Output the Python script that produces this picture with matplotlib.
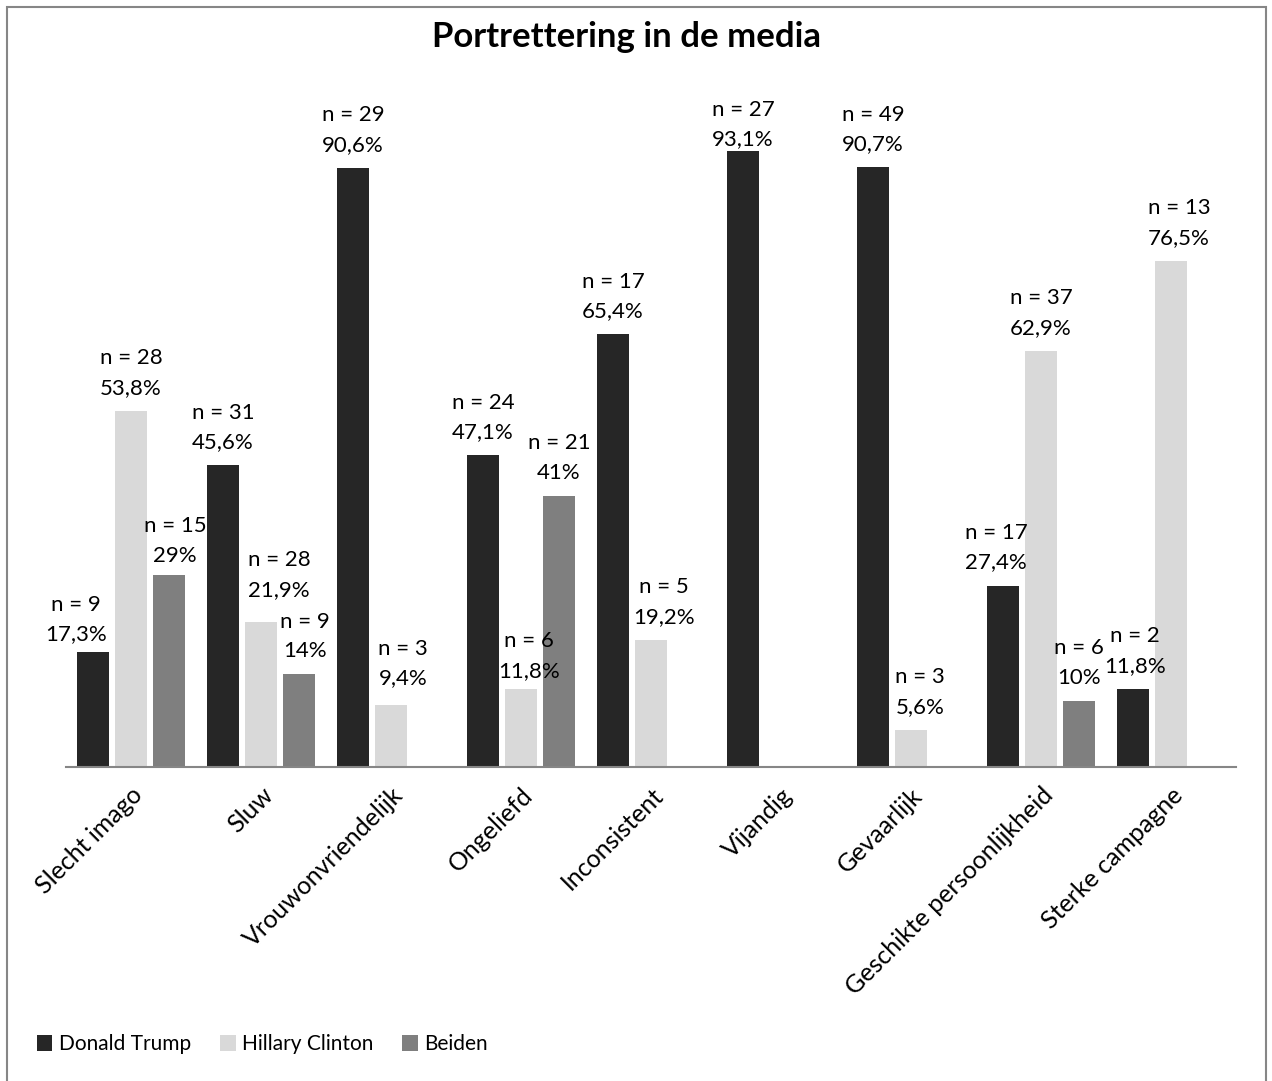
"""Portrettering in de media - grouped bar chart."""

import numpy as np
import matplotlib.pyplot as plt
from matplotlib.patches import Rectangle, Patch

plt.rcParams['font.family'] = ['Lato', 'DejaVu Sans']

# --- data ---
categories = ["Slecht imago", "Sluw", "Vrouwonvriendelijk", "Ongeliefd",
              "Inconsistent", "Vijandig", "Gevaarlijk",
              "Geschikte persoonlijkheid", "Sterke campagne"]
series_names = ["Donald Trump", "Hillary Clinton", "Beiden"]

trump_pct = [17.3, 45.6, 90.6, 47.1, 65.4, 93.1, 90.7, 27.4, 11.8]
trump_n = [9, 31, 29, 24, 17, 27, 49, 17, 2]
clinton_pct = [53.8, 21.9, 9.4, 11.8, 19.2, None, 5.6, 62.9, 76.5]
clinton_n = [28, 28, 3, 6, 5, None, 3, 37, 13]
beiden_pct = [29, 14, None, 41, None, None, None, 10, None]
beiden_n = [15, 9, None, 21, None, None, None, 6, None]

colors = ['#262626', '#d9d9d9', '#7f7f7f']

# label nudges in pixels (series, category) -> (dx, dy)
label_nudge = {
    (0, 0): (-17, -5),
    (2, 0): (6, -4),
    (1, 1): (18, 9),
    (2, 1): (6, 0),
    (1, 2): (12, 3),
    (1, 3): (8, -5),
    (1, 4): (13, 0),
    (0, 5): (0, -11),
    (1, 6): (9, 0),
    (0, 7): (-7, 0),
    (0, 8): (2, 0),
    (1, 8): (8, 0),
}


def fmt_pct(v):
    return f"{v:g}".replace('.', ',') + '%'


fig = plt.figure(figsize=(12.72, 10.81), dpi=100)
ax = fig.add_axes([66 / 1272, 1 - 766.7 / 1081, 1170 / 1272, 661 / 1081])

x = np.arange(len(categories))
step = 38 / 130
width = 32 / 130

all_pct = [trump_pct, clinton_pct, beiden_pct]
all_n = [trump_n, clinton_n, beiden_n]

for s, (pcts, ns) in enumerate(zip(all_pct, all_n)):
    for i, (p, n) in enumerate(zip(pcts, ns)):
        if p is None:
            continue
        xpos = x[i] + (s - 1) * step
        ax.bar(xpos, p, width=width, color=colors[s], linewidth=0)
        dx, dy = label_nudge.get((s, i), (0, 0))
        ax.annotate(f"n = {n}\n{fmt_pct(p)}", xy=(xpos, p),
                    xytext=(dx, 13 + dy), textcoords='offset pixels',
                    ha='center', va='bottom', fontsize=16,
                    linespacing=1.6, color='black')

ax.set_xlim(-0.5, len(categories) - 0.5)
ax.set_ylim(0, 100)
ax.set_xticks(x)
ax.set_xticklabels(categories, rotation=45, ha='right', va='top',
                   rotation_mode='anchor', fontsize=18)
ax.tick_params(axis='x', length=0, pad=12)
ax.set_yticks([])
ax.spines[['top', 'right', 'left']].set_visible(False)
ax.spines['bottom'].set_color('#868686')
ax.spines['bottom'].set_linewidth(1.5)

fig.text(627 / 1272, 1 - 37 / 1081, "Portrettering in de media",
         ha='center', va='center', fontsize=25, fontweight='bold')

handles = [Patch(facecolor=c, edgecolor='none') for c in colors]
fig.legend(handles, series_names, loc='center left',
           bbox_to_anchor=(18 / 1272, 1 - 1044 / 1081), ncol=3,
           frameon=False, fontsize=15, handlelength=0.75, handleheight=0.8,
           handletextpad=0.3, columnspacing=1.4)

# outer frame
fig.patches.append(Rectangle((7 / 1272, -0.01), 1259 / 1272, 1.01 - 7 / 1081,
                             transform=fig.transFigure, fill=False,
                             edgecolor='#868686', linewidth=1.5))

fig.savefig('out.png', dpi=100, facecolor='white')
